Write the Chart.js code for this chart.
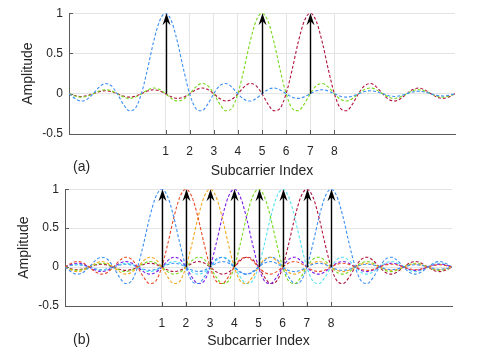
<!DOCTYPE html>
<html><head><meta charset="utf-8">
<script src="https://cdn.jsdelivr.net/npm/chart.js@4"></script>
<style>
html,body{margin:0;padding:0;background:#fff;width:500px;height:356px;overflow:hidden;position:relative}
canvas{position:absolute;left:0}
#c1{top:0}
#c2{top:176px}
</style></head><body>
<canvas id="c1" width="500" height="180"></canvas>
<canvas id="c2" width="500" height="180"></canvas>
<script>
const xValues = [-3,-2.75,-2.5,-2.25,-2,-1.75,-1.5,-1.25,-1,-0.75,-0.5,-0.25,0,0.25,0.5,0.75,1,1.25,1.5,1.75,2,2.25,2.5,2.75,3,3.25,3.5,3.75,4,4.25,4.5,4.75,5,5.25,5.5,5.75,6,6.25,6.5,6.75,7,7.25,7.5,7.75,8,8.25,8.5,8.75,9,9.25,9.5,9.75,10,10.25,10.5,10.75,11,11.25,11.5,11.75,12,12.25,12.5,12.75,13];
const xTickValues = [1,2,3,4,5,6,7,8];
const xTickLabels = ['1','2','3','4','5','6','7','8'];
const yTickValues = [-0.5,0,0.5,1];
const yTickLabels = ['-0.5','0','0.5','1'];

const sub1 = [0,-0.060,-0.091,-0.069,0,0.082,0.127,0.100,0,-0.129,-0.212,-0.180,0,0.300,0.637,0.900,1,0.900,0.637,0.300,0,-0.180,-0.212,-0.129,0,0.100,0.127,0.082,0,-0.069,-0.091,-0.060,0,0.053,0.071,0.047,0,-0.043,-0.058,-0.039,0,0.036,0.049,0.033,0,-0.031,-0.042,-0.029,0,0.027,0.037,0.026,0,-0.024,-0.034,-0.023,0,0.022,0.030,0.021,0,-0.020,-0.028,-0.019,0];
const sub2 = [0,0.047,0.071,0.053,0,-0.060,-0.091,-0.069,0,0.082,0.127,0.100,0,-0.129,-0.212,-0.180,0,0.300,0.637,0.900,1,0.900,0.637,0.300,0,-0.180,-0.212,-0.129,0,0.100,0.127,0.082,0,-0.069,-0.091,-0.060,0,0.053,0.071,0.047,0,-0.043,-0.058,-0.039,0,0.036,0.049,0.033,0,-0.031,-0.042,-0.029,0,0.027,0.037,0.026,0,-0.024,-0.034,-0.023,0,0.022,0.030,0.021,0];
const sub3 = [0,-0.039,-0.058,-0.043,0,0.047,0.071,0.053,0,-0.060,-0.091,-0.069,0,0.082,0.127,0.100,0,-0.129,-0.212,-0.180,0,0.300,0.637,0.900,1,0.900,0.637,0.300,0,-0.180,-0.212,-0.129,0,0.100,0.127,0.082,0,-0.069,-0.091,-0.060,0,0.053,0.071,0.047,0,-0.043,-0.058,-0.039,0,0.036,0.049,0.033,0,-0.031,-0.042,-0.029,0,0.027,0.037,0.026,0,-0.024,-0.034,-0.023,0];
const sub4 = [0,0.033,0.049,0.036,0,-0.039,-0.058,-0.043,0,0.047,0.071,0.053,0,-0.060,-0.091,-0.069,0,0.082,0.127,0.100,0,-0.129,-0.212,-0.180,0,0.300,0.637,0.900,1,0.900,0.637,0.300,0,-0.180,-0.212,-0.129,0,0.100,0.127,0.082,0,-0.069,-0.091,-0.060,0,0.053,0.071,0.047,0,-0.043,-0.058,-0.039,0,0.036,0.049,0.033,0,-0.031,-0.042,-0.029,0,0.027,0.037,0.026,0];
const sub5 = [0,-0.029,-0.042,-0.031,0,0.033,0.049,0.036,0,-0.039,-0.058,-0.043,0,0.047,0.071,0.053,0,-0.060,-0.091,-0.069,0,0.082,0.127,0.100,0,-0.129,-0.212,-0.180,0,0.300,0.637,0.900,1,0.900,0.637,0.300,0,-0.180,-0.212,-0.129,0,0.100,0.127,0.082,0,-0.069,-0.091,-0.060,0,0.053,0.071,0.047,0,-0.043,-0.058,-0.039,0,0.036,0.049,0.033,0,-0.031,-0.042,-0.029,0];
const sub6 = [0,0.026,0.037,0.027,0,-0.029,-0.042,-0.031,0,0.033,0.049,0.036,0,-0.039,-0.058,-0.043,0,0.047,0.071,0.053,0,-0.060,-0.091,-0.069,0,0.082,0.127,0.100,0,-0.129,-0.212,-0.180,0,0.300,0.637,0.900,1,0.900,0.637,0.300,0,-0.180,-0.212,-0.129,0,0.100,0.127,0.082,0,-0.069,-0.091,-0.060,0,0.053,0.071,0.047,0,-0.043,-0.058,-0.039,0,0.036,0.049,0.033,0];
const sub7 = [0,-0.023,-0.034,-0.024,0,0.026,0.037,0.027,0,-0.029,-0.042,-0.031,0,0.033,0.049,0.036,0,-0.039,-0.058,-0.043,0,0.047,0.071,0.053,0,-0.060,-0.091,-0.069,0,0.082,0.127,0.100,0,-0.129,-0.212,-0.180,0,0.300,0.637,0.900,1,0.900,0.637,0.300,0,-0.180,-0.212,-0.129,0,0.100,0.127,0.082,0,-0.069,-0.091,-0.060,0,0.053,0.071,0.047,0,-0.043,-0.058,-0.039,0];
const sub8 = [0,0.021,0.030,0.022,0,-0.023,-0.034,-0.024,0,0.026,0.037,0.027,0,-0.029,-0.042,-0.031,0,0.033,0.049,0.036,0,-0.039,-0.058,-0.043,0,0.047,0.071,0.053,0,-0.060,-0.091,-0.069,0,0.082,0.127,0.100,0,-0.129,-0.212,-0.180,0,0.300,0.637,0.900,1,0.900,0.637,0.300,0,-0.180,-0.212,-0.129,0,0.100,0.127,0.082,0,-0.069,-0.091,-0.060,0,0.053,0.071,0.047,0];

const topSeries = [sub1, sub5, sub7];
const topColors = ['#3b8ff5', '#78d81c', '#b0123d'];
const topArrows = [1, 5, 7];
const bottomSeries = [sub1, sub2, sub3, sub4, sub5, sub6, sub7, sub8];
const bottomColors = ['#3b8ff5', '#ea4a25', '#f2a71e', '#7b1ae8', '#78d81c', '#56e2f2', '#b0123d', '#3b8ff5'];
const bottomArrows = [1, 2, 3, 4, 5, 6, 7, 8];
const panelLabels = ['(a)', '(b)'];
const xTitle = 'Subcarrier Index';
const yTitle = 'Amplitude';

const FAMILY = '"Liberation Sans", Arial, Helvetica, sans-serif';
const TEXT = '#262626';

const decor = {
  id: 'decor',
  beforeDatasetsDraw(chart, args, opts) {
    const {ctx, chartArea: a, scales: {x, y}} = chart;
    ctx.save();
    ctx.strokeStyle = '#5a5a5a';
    ctx.lineWidth = 1;
    ctx.beginPath();
    xTickValues.forEach(v => {
      const px = Math.round(x.getPixelForValue(v)) + 0.5;
      ctx.moveTo(px, a.bottom); ctx.lineTo(px, a.bottom - 4);
    });
    yTickValues.forEach(v => {
      const py = Math.round(y.getPixelForValue(v)) + 0.5;
      ctx.moveTo(a.left, py); ctx.lineTo(a.left + 4, py);
    });
    ctx.stroke();
    ctx.restore();
  },
  afterDatasetsDraw(chart, args, opts) {
    const {ctx, scales: {x, y}} = chart;
    ctx.save();
    opts.arrows.forEach(v => {
      const px = Math.round(x.getPixelForValue(v)) + 0.5;
      const p0 = y.getPixelForValue(0), p1 = y.getPixelForValue(1);
      ctx.strokeStyle = '#000';
      ctx.lineWidth = 1.4;
      ctx.beginPath(); ctx.moveTo(px, p0); ctx.lineTo(px, p1 + 6); ctx.stroke();
      ctx.fillStyle = '#000';
      ctx.beginPath();
      ctx.moveTo(px, p1);
      ctx.lineTo(px + 4, p1 + 12);
      ctx.lineTo(px, p1 + 8);
      ctx.lineTo(px - 4, p1 + 12);
      ctx.closePath();
      ctx.fill();
    });
    ctx.fillStyle = TEXT;
    ctx.font = '14px ' + FAMILY;
    ctx.textBaseline = 'alphabetic';
    ctx.textAlign = 'left';
    ctx.fillText(opts.label, opts.lx, opts.ly);
    ctx.restore();
  }
};

function makeChart(id, series, colors, arrows, label, cfg) {
  return new Chart(document.getElementById(id), {
    type: 'line',
    data: {
      datasets: series.map((s, i) => ({
        data: s.map((v, j) => ({x: xValues[j], y: v})),
        borderColor: colors[i],
        borderWidth: 1.1,
        borderDash: [3, 2],
        pointRadius: 0,
        fill: false,
        cubicInterpolationMode: 'monotone'
      }))
    },
    options: {
      responsive: false,
      animation: false,
      devicePixelRatio: 1,
      layout: {padding: {top: cfg.top, right: cfg.right, left: 0, bottom: 0}},
      plugins: {
        legend: {display: false},
        tooltip: {enabled: false},
        decor: {arrows: arrows, label: label, lx: 73, ly: cfg.ly}
      },
      scales: {
        x: {
          type: 'linear', min: -3, max: 13,
          afterBuildTicks: s => { s.ticks = xTickValues.map(v => ({value: v})); },
          afterFit: s => { s.height = cfg.xh; },
          ticks: {padding: 10, autoSkip: false, maxRotation: 0, color: TEXT,
                  font: {size: 12, family: FAMILY},
                  callback: (v, i) => xTickLabels[i]},
          grid: {color: '#e4e4e4', drawTicks: false},
          border: {color: '#5a5a5a', width: 1},
          title: {display: true, text: xTitle, color: TEXT,
                  font: {size: 14, family: FAMILY}, padding: {top: 0, bottom: cfg.xtp}}
        },
        y: {
          type: 'linear', min: -0.5, max: 1,
          afterBuildTicks: s => { s.ticks = yTickValues.map(v => ({value: v})); },
          afterFit: s => { s.width = cfg.yw; },
          ticks: {padding: 6, color: TEXT, font: {size: 12, family: FAMILY},
                  callback: (v, i) => yTickLabels[i]},
          grid: {color: '#e4e4e4', drawTicks: false},
          border: {color: '#5a5a5a', width: 1},
          title: {display: true, text: yTitle, color: TEXT,
                  font: {size: 14, family: FAMILY}, padding: {top: cfg.ytp, bottom: 0}}
        }
      }
    },
    plugins: [decor]
  });
}

makeChart('c1', topSeries, topColors, topArrows, panelLabels[0],
  {top: 13, right: 45, yw: 69, xh: 46, xtp: 0, ytp: 20, ly: 171});
makeChart('c2', bottomSeries, bottomColors, bottomArrows, panelLabels[1],
  {top: 9, right: 48, yw: 65, xh: 50, xtp: 6, ytp: 16, ly: 168});
</script>
</body></html>
